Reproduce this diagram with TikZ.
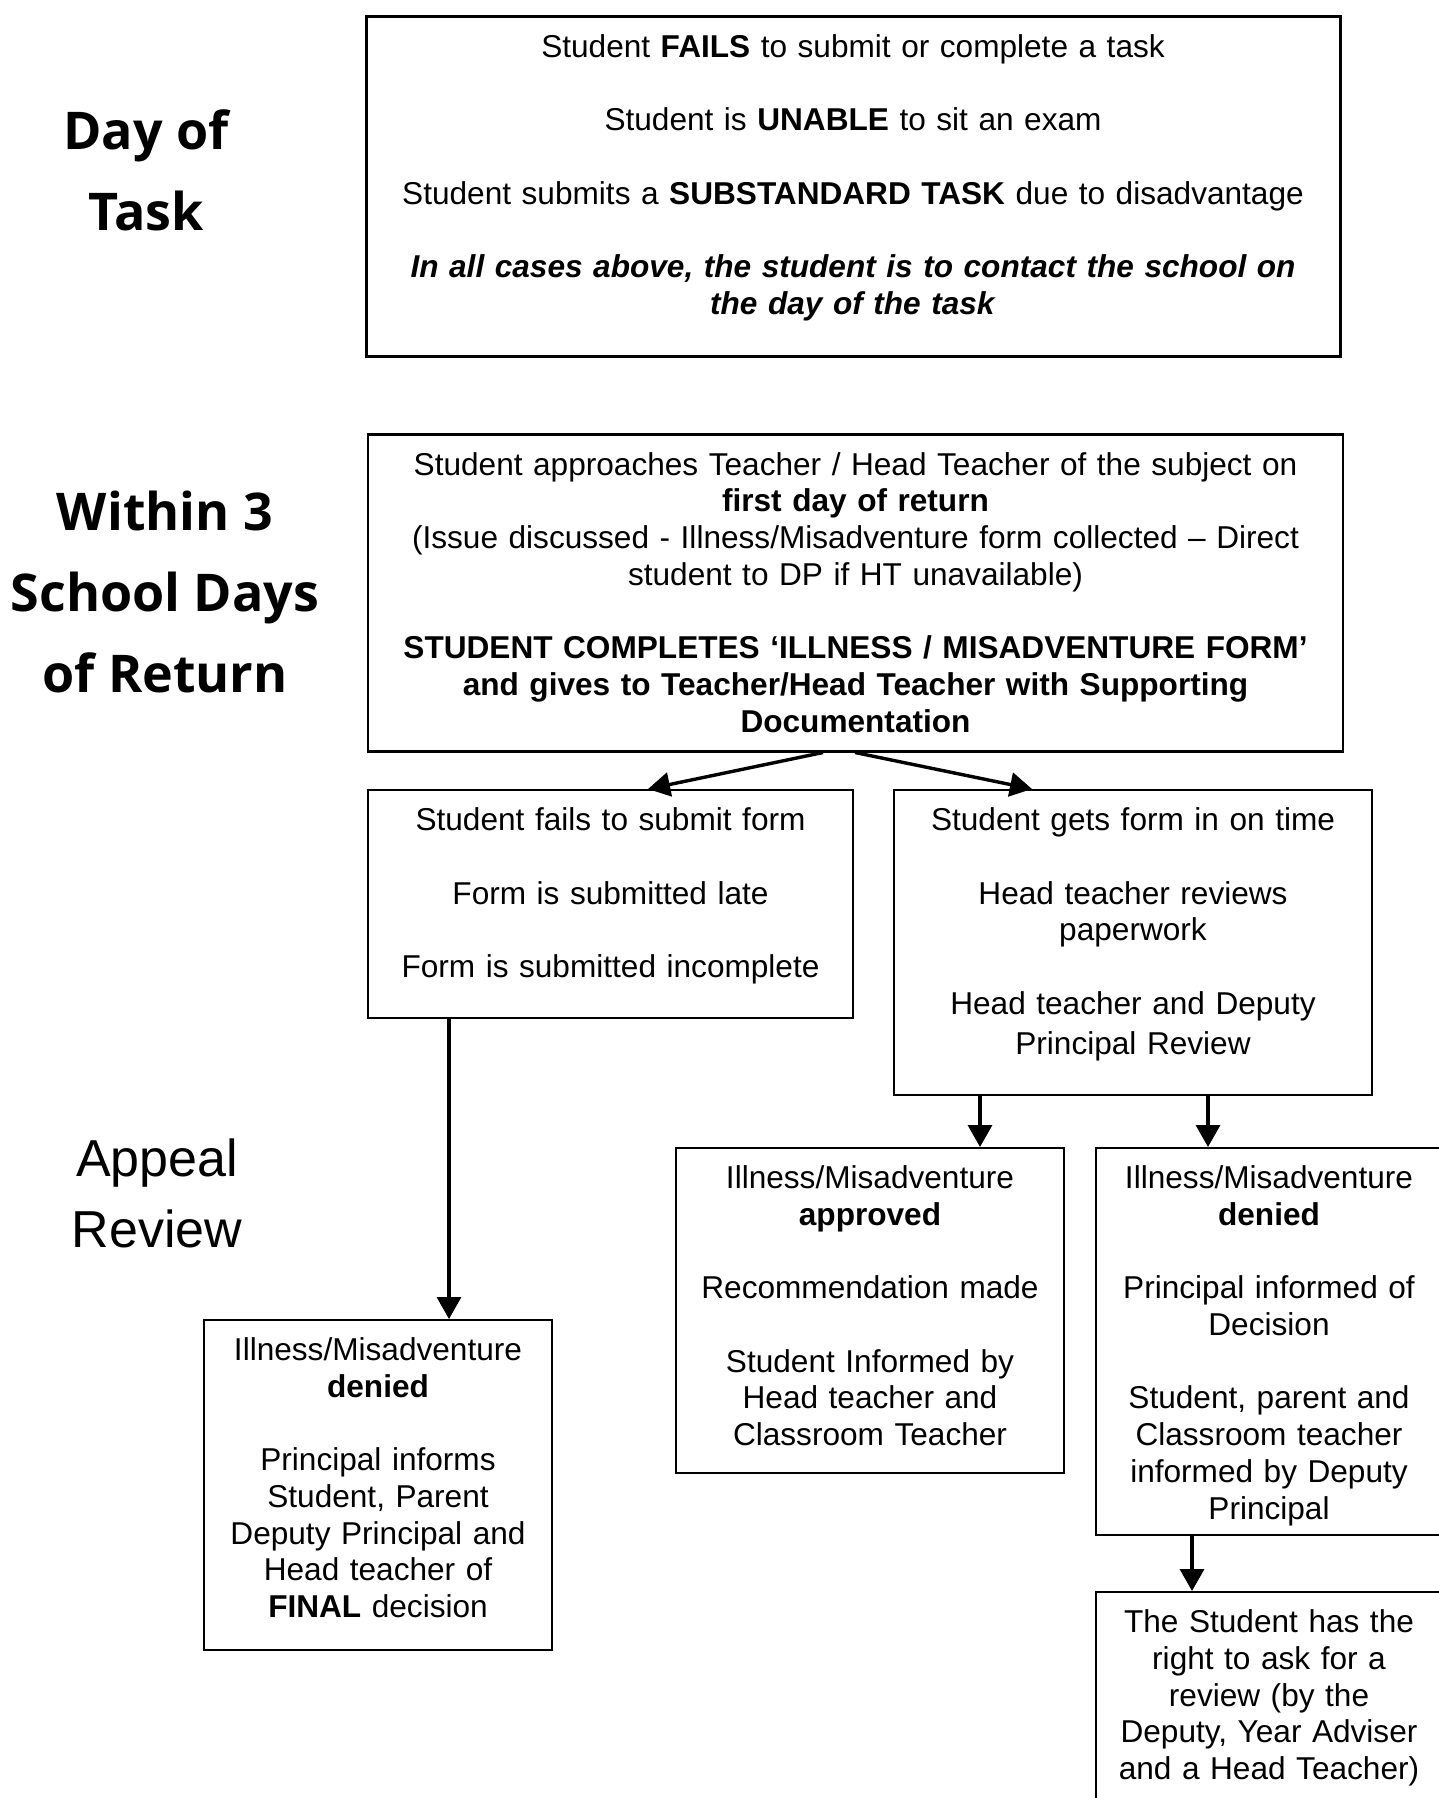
\documentclass[tikz,border=0pt]{standalone}
\usepackage{fontspec}
\setmainfont{Liberation Sans}
\newfontfamily\headfont{Open Sans}
\usetikzlibrary{arrows.meta}

\begin{document}
\begin{tikzpicture}[x=0.5pt, y=-0.5pt,
  box/.style={draw, line width=0.75pt, align=center, anchor=north,
    inner xsep=3pt, inner ysep=0pt, text height=20.5pt,
    font=\fontsize{15.8}{18.35}\selectfont},
  head/.style={align=center, font=\headfont\bfseries\fontsize{26}{40.5}\selectfont},
  sidehead/.style={align=center, font=\fontsize{26}{35.5}\selectfont},
  arr/.style={-{Triangle[width=12pt,length=11pt]}, line width=1.7pt}]
  \clip (0,0) rectangle (1439,1798);

  % stage titles on the left
  \node[head] (day) at (146,170) {Day of\\Task};
  \node[head] (within) at (165,592) {Within 3\\School Days\\of Return};
  \node[sidehead] (appeal) at (157,1193.5) {Appeal\\Review};

  \node[box, line width=1.5pt, text width=481pt, text depth=149.5pt] (task) at (853,15)
    {Student \textbf{FAILS} to submit or complete a task\\[\baselineskip]
     Student is \textbf{UNABLE} to sit an exam\\[\baselineskip]
     Student submits a \textbf{SUBSTANDARD TASK} due to disadvantage\\[\baselineskip]
     \textbf{\textit{In all cases above, the student is to contact the school on}}\\
     \textbf{\textit{the day of the task}}};
  \node[box, line width=1.25pt, text width=481.5pt, text depth=138pt] (ret) at (855.5,433)
    {Student approaches Teacher / Head Teacher of the subject on\\
     \textbf{first day of return}\\
     (Issue discussed - Illness/Misadventure form collected – Direct\\
     student to DP if HT unavailable)\\[\baselineskip]
     \textbf{STUDENT COMPLETES ‘ILLNESS / MISADVENTURE FORM’}\\
     \textbf{and gives to Teacher/Head Teacher with Supporting}\\
     \textbf{Documentation}};
  \node[box, text width=236.5pt, text depth=93.5pt] (late) at (610.5,789)
    {Student fails to submit form\\[\baselineskip]
     Form is submitted late\\[\baselineskip]
     Form is submitted incomplete};
  \node[box, text width=233pt, text depth=132pt] (ontime) at (1133,789)
    {Student gets form in on time\\[\baselineskip]
     Head teacher reviews\\paperwork\\[\baselineskip]
     Head teacher and Deputy\\[2pt]Principal Review};
  \node[box, text width=188pt, text depth=142pt] (approved) at (870,1147)
    {Illness/Misadventure\\\textbf{approved}\\[\baselineskip]
     Recommendation made\\[\baselineskip]
     Student Informed by\\Head teacher and\\Classroom Teacher};
  \node[box, text width=167pt, text depth=173pt] (denied) at (1269,1147)
    {Illness/Misadventure\\\textbf{denied}\\[\baselineskip]
     Principal informed of\\Decision\\[\baselineskip]
     Student, parent and\\Classroom teacher\\informed by Deputy\\Principal};
  \node[box, text width=167pt, text depth=110pt] (review) at (1269,1591)
    {The Student has the\\right to ask for a\\review (by the\\Deputy, Year Adviser\\and a Head Teacher)};
  \node[box, text width=168pt, text depth=144.5pt] (final) at (378,1319)
    {Illness/Misadventure\\\textbf{denied}\\[\baselineskip]
     Principal informs\\Student, Parent\\Deputy Principal and\\Head teacher of\\
     \textbf{FINAL} decision};

  \draw[arr] ([xshift=-16.25pt]ret.south) -- ([xshift=18.75pt]late.north);
  \draw[arr] ([xshift=-0.25pt]ret.south) -- ([xshift=-50.5pt]ontime.north);
  \draw[arr] ([xshift=-80.75pt]late.south) -- ([xshift=-80.75pt]late.south |- final.north);
  \draw[arr] ([xshift=-76.5pt]ontime.south) -- ([xshift=-76.5pt]ontime.south |- approved.north);
  \draw[arr] ([xshift=37.5pt]ontime.south) -- ([xshift=37.5pt]ontime.south |- denied.north);
  \draw[arr] ([xshift=-38.5pt]denied.south) -- ([xshift=-38.5pt]denied.south |- review.north);
\end{tikzpicture}
\end{document}
